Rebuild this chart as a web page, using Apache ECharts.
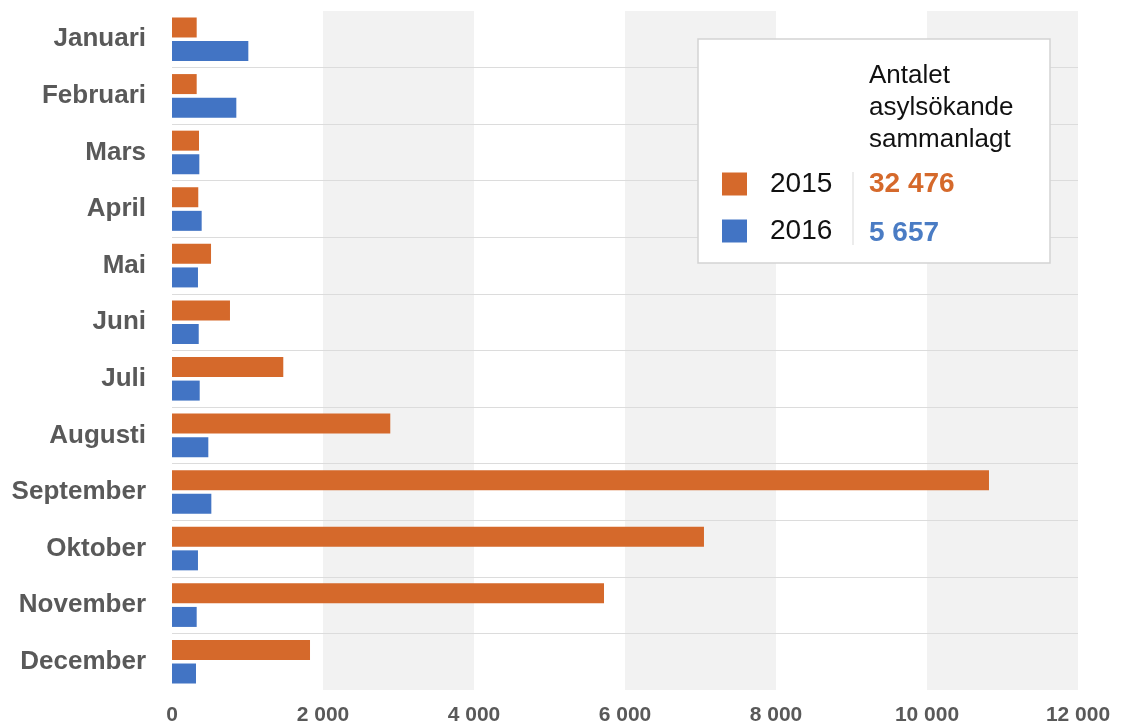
<!DOCTYPE html>
<html>
<head>
<meta charset="utf-8">
<script src="https://cdn.jsdelivr.net/npm/echarts@6/dist/echarts.min.js"></script>
<style>
html,body{margin:0;padding:0;background:#fff;}
#chart{width:1121px;height:726px;}
</style>
</head>
<body>
<div id="chart"></div>
<script>
const months = ['Januari','Februari','Mars','April','Mai','Juni','Juli','Augusti','September','Oktober','November','December'];
const values2015 = [327, 327, 358, 348, 517, 768, 1474, 2891, 10821, 7046, 5722, 1828];
const values2016 = [1011, 852, 362, 393, 344, 354, 367, 481, 521, 344, 327, 318];
const seriesNames = ['2015', '2016'];
const totals = ['32 476', '5 657'];
const legendTitle = 'Antalet\nasylsökande\nsammanlagt';
const xTicks = {min: 0, max: 12000, interval: 2000};

const ORANGE = '#D5692B';
const BLUE = '#4274C4';
const FONT = "'Liberation Sans', Arial, sans-serif";

function fmt(v){ return String(v).replace(/\B(?=(\d{3})+(?!\d))/g, ' '); }

const chart = echarts.init(document.getElementById('chart'));
chart.setOption({
  animation: false,
  backgroundColor: '#ffffff',
  textStyle: {fontFamily: FONT},
  grid: {left: 172, right: 43, top: 11, bottom: 33, containLabel: false},
  xAxis: {
    type: 'value',
    z: 0,
    min: xTicks.min, max: xTicks.max, interval: xTicks.interval,
    axisLine: {show: false},
    axisTick: {show: false},
    splitLine: {show: false},
    splitArea: {show: true, areaStyle: {color: ['rgba(255,255,255,0)', '#f2f2f2']}},
    axisLabel: {
      formatter: fmt, color: '#595959', fontWeight: 'bold', fontSize: 21, fontFamily: FONT, margin: 15
    }
  },
  yAxis: {
    type: 'category',
    z: 1,
    data: months,
    inverse: true,
    axisLine: {show: false},
    axisTick: {show: false},
    splitLine: {show: true, showMinLine: false, showMaxLine: false, lineStyle: {color: '#dcdcdc', width: 1}},
    axisLabel: {color: '#595959', fontWeight: 'bold', fontSize: 26, fontFamily: FONT, margin: 26}
  },
  legend: {
    orient: 'vertical',
    left: 722, top: 170,
    padding: 0,
    itemWidth: 25, itemHeight: 23, itemGap: 19,
    icon: 'rect',
    z: 10,
    data: seriesNames,
    textStyle: {color: '#111', fontSize: 28, fontFamily: FONT, padding: [0, 0, 0, 18]}
  },
  graphic: [
    {type: 'rect', z: 5, shape: {x: 698, y: 39, width: 352, height: 224},
     style: {fill: '#ffffff', stroke: '#d3d3d3', lineWidth: 1.5}},
    {type: 'line', z: 6, shape: {x1: 853, y1: 172, x2: 853, y2: 245},
     style: {stroke: '#d9d9d9', lineWidth: 1}},
    {type: 'text', z: 6, x: 869, y: 60,
     style: {text: legendTitle, fill: '#111', font: '26px ' + FONT, lineHeight: 32, verticalAlign: 'top'}},
    {type: 'text', z: 6, x: 869, y: 184,
     style: {text: totals[0], fill: ORANGE, font: 'bold 28px ' + FONT, verticalAlign: 'middle'}},
    {type: 'text', z: 6, x: 869, y: 233,
     style: {text: totals[1], fill: '#4A7CC4', font: 'bold 28px ' + FONT, verticalAlign: 'middle'}}
  ],
  series: [
    {name: seriesNames[0], type: 'bar', data: values2015, barWidth: 20, barGap: '18%',
     itemStyle: {color: ORANGE}},
    {name: seriesNames[1], type: 'bar', data: values2016, barWidth: 20, barGap: '18%',
     itemStyle: {color: BLUE}}
  ]
});
</script>
</body>
</html>
